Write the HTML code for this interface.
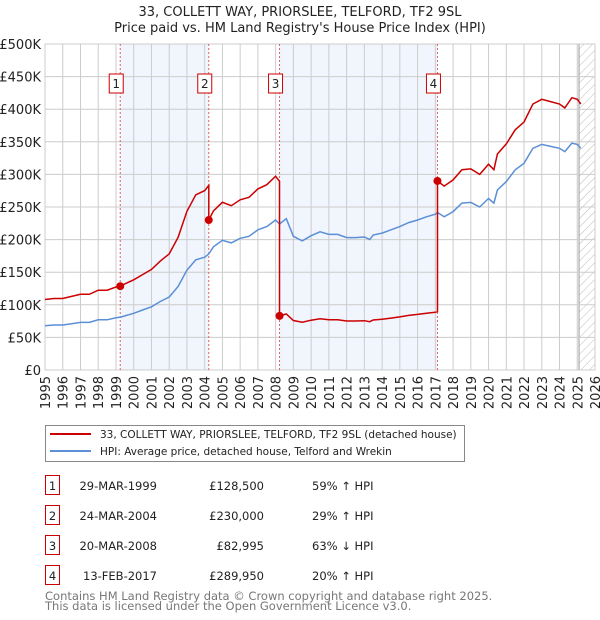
<!DOCTYPE html>
<html><head><meta charset="utf-8">
<style>
body{margin:0;background:#fff;font-family:"Liberation Sans","DejaVu Sans",sans-serif;}
#wrap{position:relative;width:600px;height:620px;overflow:hidden;}
svg text{font-family:"DejaVu Sans","Liberation Sans",sans-serif;}
</style></head>
<body>
<div id="wrap">
<svg id="chart" width="600" height="620"></svg>
</div>
<script>
const years=[1995,1995.5,1996,1996.5,1997,1997.5,1998,1998.5,1999,1999.24,1999.5,2000,2000.5,2001,2001.5,2002,2002.5,2003,2003.5,2004,2004.23,2004.5,2005,2005.5,2006,2006.5,2007,2007.5,2008,2008.22,2008.6,2009,2009.5,2010,2010.5,2011,2011.5,2012,2012.5,2013,2013.3,2013.5,2014,2014.5,2015,2015.5,2016,2016.5,2017,2017.12,2017.5,2018,2018.5,2019,2019.5,2020,2020.3,2020.5,2021,2021.5,2022,2022.5,2023,2023.5,2024,2024.3,2024.7,2025,2025.2];
const hpi=[68000,69000,69000,71000,73000,73000,77000,77000,80000,80800,83000,87000,92000,97000,105000,112000,128000,153000,169000,173000,178000,189000,199000,195000,202000,205000,215000,220000,230000,224000,232000,205000,198000,206000,212000,208000,208000,203000,203000,204000,200000,207000,210000,215000,220000,226000,230000,235000,239000,241600,235000,243000,256000,257000,250000,263000,256000,276000,289000,307000,317000,340000,346000,343000,340000,335000,348000,346000,340000];
const saleYears=[1999.24,2004.23,2008.22,2017.12];
const salePrices=[128500,230000,82995,289950];
const saleLabels=["1","2","3","4"];
const yTicks=[0,50000,100000,150000,200000,250000,300000,350000,400000,450000,500000];
const yTickLabels=["£0","£50K","£100K","£150K","£200K","£250K","£300K","£350K","£400K","£450K","£500K"];
const xTicks=[1995,1996,1997,1998,1999,2000,2001,2002,2003,2004,2005,2006,2007,2008,2009,2010,2011,2012,2013,2014,2015,2016,2017,2018,2019,2020,2021,2022,2023,2024,2025,2026];

const NS="http://www.w3.org/2000/svg";
const svg=document.getElementById('chart');
const L=45,R=595,T=44,B=370;
const xs=y=>L+(y-1995)/(2026-1995)*(R-L);
const ys=v=>B-v/500000*(B-T);
function mk(tag,attrs,parent){const e=document.createElementNS(NS,tag);for(const k in attrs)e.setAttribute(k,attrs[k]);(parent||svg).appendChild(e);return e;}

let t=mk('text',{x:300,y:16,'text-anchor':'middle','font-size':13,fill:'#222'});t.textContent="33, COLLETT WAY, PRIORSLEE, TELFORD, TF2 9SL";


t=mk('text',{x:300,y:32,'text-anchor':'middle','font-size':13,fill:'#222'});t.textContent="Price paid vs. HM Land Registry's House Price Index (HPI)";



for(let i=0;i<saleYears.length;i+=2){
  const r=mk('rect',{x:xs(saleYears[i]),y:T,width:xs(saleYears[i+1])-xs(saleYears[i]),height:B-T,fill:'#eef3fd',opacity:0.8});
  
  
}
const defs=mk('defs',{});
const pat=mk('pattern',{id:'hatch',width:6,height:6,patternUnits:'userSpaceOnUse',patternTransform:'rotate(45)'},defs);
mk('line',{x1:0,y1:0,x2:0,y2:6,stroke:'#bbb','stroke-width':1},pat);
const hx=xs(2025.1);
let h=mk('rect',{x:hx,y:T,width:R-hx,height:B-T,fill:'url(#hatch)'});


mk('line',{x1:hx,y1:T,x2:hx,y2:B,stroke:'#999','stroke-width':1});

yTicks.forEach((v,i)=>{
  const g=mk('line',{x1:L,x2:R,y1:ys(v),y2:ys(v),stroke:'#cccccc','stroke-width':1});
  
  
  const tx=mk('text',{x:L-4,y:ys(v)+5,'text-anchor':'end','font-size':13,fill:'#222'});
  tx.textContent=yTickLabels[i];
  
  
});
xTicks.forEach(y=>{
  const g=mk('line',{x1:xs(y),x2:xs(y),y1:T,y2:B,stroke:'#cccccc','stroke-width':1});
  
  
  const tx=mk('text',{x:0,y:0,'text-anchor':'end','font-size':13,fill:'#222',transform:`translate(${xs(y)+5},${B+6}) rotate(-90)`});
  tx.textContent=y;
  
  
});
mk('rect',{x:L,y:T,width:R-L,height:B-T,fill:'none',stroke:'#cccccc'});

saleYears.forEach((sy,i)=>{
  const l=mk('line',{x1:xs(sy),x2:xs(sy),y1:T,y2:B,stroke:'#e06060','stroke-width':1,'stroke-dasharray':'2,2'});
  
  
  const bx=mk('rect',{x:xs(sy)-11,y:74,width:14,height:19,fill:'#fff',stroke:'#cc0000','stroke-width':1});
  
  
  const tx=mk('text',{x:xs(sy)-4,y:88,'text-anchor':'middle','font-size':12,fill:'#222'});
  tx.textContent=saleLabels[i];
});

let d=years.map((y,i)=>(i?'L':'M')+xs(y).toFixed(1)+','+ys(hpi[i]).toFixed(1)).join(' ');
let p=mk('path',{d:d,fill:'none',stroke:'#5b8fd6','stroke-width':1.5});



function hpiAt(y){for(let i=1;i<years.length;i++){if(years[i]>=y){const f=(y-years[i-1])/(years[i]-years[i-1]);return hpi[i-1]+f*(hpi[i]-hpi[i-1]);}}return hpi[hpi.length-1];}
let allPts=[];
years.forEach((y,i)=>{
  let k=0;for(let j=0;j<saleYears.length;j++)if(y>=saleYears[j]-1e-6)k=j;
  for(let j=1;j<saleYears.length;j++){
    if(Math.abs(y-saleYears[j])<1e-6){
      allPts.push([y,hpi[i]*salePrices[j-1]/hpiAt(saleYears[j-1])]);
    }
  }
  allPts.push([y,hpi[i]*salePrices[k]/hpiAt(saleYears[k])]);
});
d=allPts.map((q,i)=>(i?'L':'M')+xs(q[0]).toFixed(1)+','+ys(q[1]).toFixed(1)).join(' ');
p=mk('path',{d:d,fill:'none',stroke:'#cc0000','stroke-width':1.5});


saleYears.forEach((sy,i)=>{
  const c=mk('circle',{cx:xs(sy),cy:ys(salePrices[i]),r:4,fill:'#cc0000'});
  
  
});

const lg=mk('g',{});


mk('rect',{x:45.5,y:425.5,width:419,height:36,fill:'#fff',stroke:'#888'},lg);
mk('line',{x1:50,x2:91,y1:434,y2:434,stroke:'#cc0000','stroke-width':2},lg);
mk('line',{x1:50,x2:91,y1:451,y2:451,stroke:'#5b8fd6','stroke-width':2},lg);
t=mk('text',{x:100,y:438,'font-size':10.5,fill:'#222'},lg);t.textContent="33, COLLETT WAY, PRIORSLEE, TELFORD, TF2 9SL (detached house)";


t=mk('text',{x:100,y:455,'font-size':10.5,fill:'#222'},lg);t.textContent="HPI: Average price, detached house, Telford and Wrekin";



const dates=["29-MAR-1999","24-MAR-2004","20-MAR-2008","13-FEB-2017"];
const prices=["£128,500","£230,000","£82,995","£289,950"];
const rel=["59% ↑ HPI","29% ↑ HPI","63% ↓ HPI","20% ↑ HPI"];
dates.forEach((dt,i)=>{
  const cy=483+i*30;
  const g=mk('g',{});
  
  
  mk('rect',{x:45.5,y:cy-7.5,width:14,height:19,fill:'#fff',stroke:'#cc0000'},g);
  let x=mk('text',{x:52.5,y:cy+7,'text-anchor':'middle','font-size':11.5,fill:'#222'},g);x.textContent=saleLabels[i];
  x=mk('text',{x:157,y:cy+7,'text-anchor':'end','font-size':11.5,fill:'#222'},g);x.textContent=dt;
  x=mk('text',{x:264,y:cy+7,'text-anchor':'end','font-size':11.5,fill:'#222'},g);x.textContent=prices[i];
  x=mk('text',{x:312,y:cy+7,'font-size':11.5,fill:'#222'},g);x.textContent=rel[i];
});
t=mk('text',{x:45,y:600,'font-size':11.5,fill:'#777'});t.textContent="Contains HM Land Registry data © Crown copyright and database right 2025.";


t=mk('text',{x:45,y:610,'font-size':11.5,fill:'#777'});t.textContent="This data is licensed under the Open Government Licence v3.0.";


</script>
</body></html>
